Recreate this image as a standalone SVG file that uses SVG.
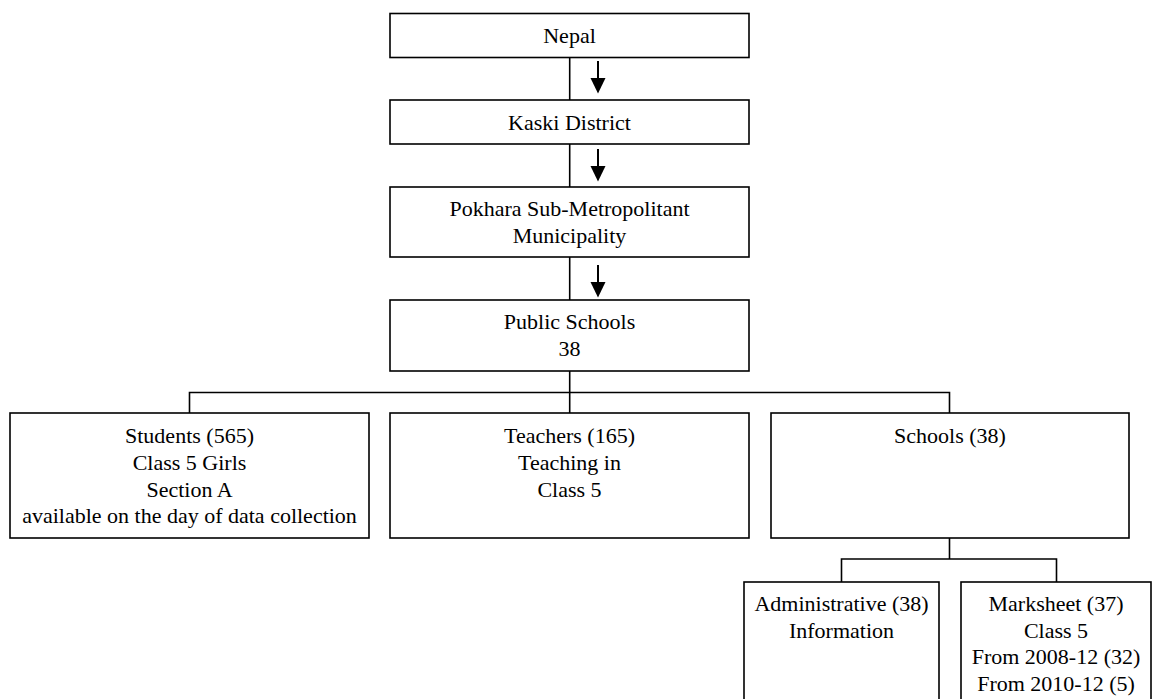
<svg xmlns="http://www.w3.org/2000/svg" width="1153" height="699" viewBox="0 0 1153 699">
<defs>
<style>
.box{fill:#fff;stroke:#000;stroke-width:1.6}
.ln{fill:none;stroke:#000;stroke-width:1.6}
.t{font-size:22px;fill:#000;text-anchor:middle}
.ar{fill:none;stroke:#000;stroke-width:2}
</style>
</defs>
<rect width="1153" height="699" fill="#fff"/>
<g id="connectors">
<line class="ln" x1="569.7" y1="57.5" x2="569.7" y2="100"/>
<line class="ln" x1="569.7" y1="144" x2="569.7" y2="187"/>
<line class="ln" x1="569.7" y1="257" x2="569.7" y2="300"/>
<path class="ln" d="M569.7,371 V392.5 M189.5,413 V392.5 H949.5 V413 M569.7,392.5 V413"/>
<path class="ln" d="M949.5,538 V559 M841.5,582 V559 H1056.5 V582"/>
<line class="ar" x1="598" y1="61" x2="598" y2="79"/>
<path d="M590.5,78 L605.5,78 L598,93.5 Z" fill="#000"/>
<line class="ar" x1="598" y1="149" x2="598" y2="167"/>
<path d="M590.5,166 L605.5,166 L598,181.5 Z" fill="#000"/>
<line class="ar" x1="598" y1="265" x2="598" y2="283"/>
<path d="M590.5,282 L605.5,282 L598,297.5 Z" fill="#000"/>
</g>
<g font-family="Liberation Serif, Times New Roman, DejaVu Serif, serif">
<g id="nepal">
<rect class="box" x="390" y="13.5" width="359" height="44"/>
<text class="t" x="569.5" y="43.3">Nepal</text>
</g>
<g id="kaski">
<rect class="box" x="390" y="100" width="359" height="44"/>
<text class="t" x="569.5" y="129.5">Kaski District</text>
</g>
<g id="pokhara">
<rect class="box" x="390" y="187" width="359" height="70"/>
<text class="t" x="569.5" y="216">Pokhara Sub-Metropolitant</text>
<text class="t" x="569.5" y="242.7">Municipality</text>
</g>
<g id="public-schools">
<rect class="box" x="390" y="300" width="359" height="71"/>
<text class="t" x="569.5" y="328.5">Public Schools</text>
<text class="t" x="569.5" y="355.5">38</text>
</g>
<g id="students">
<rect class="box" x="10" y="413" width="359" height="125"/>
<text class="t" x="189.5" y="443.3">Students (565)</text>
<text class="t" x="189.5" y="470">Class 5 Girls</text>
<text class="t" x="189.5" y="496.7">Section A</text>
<text class="t" x="189.5" y="523.3">available on the day of data collection</text>
</g>
<g id="teachers">
<rect class="box" x="390" y="413" width="359" height="125"/>
<text class="t" x="569.5" y="443.3">Teachers (165)</text>
<text class="t" x="569.5" y="470">Teaching in</text>
<text class="t" x="569.5" y="496.7">Class 5</text>
</g>
<g id="schools">
<rect class="box" x="771" y="413" width="358" height="125"/>
<text class="t" x="950" y="443.3">Schools (38)</text>
</g>
<g id="administrative">
<rect class="box" x="744" y="582" width="195" height="130"/>
<text class="t" x="841.5" y="611">Administrative (38)</text>
<text class="t" x="841.5" y="637.5">Information</text>
</g>
<g id="marksheet">
<rect class="box" x="961" y="582" width="190" height="130"/>
<text class="t" x="1056" y="611">Marksheet (37)</text>
<text class="t" x="1056" y="637.5">Class 5</text>
<text class="t" x="1056" y="664">From 2008-12 (32)</text>
<text class="t" x="1056" y="690.6">From 2010-12 (5)</text>
</g>
</g>
</svg>
